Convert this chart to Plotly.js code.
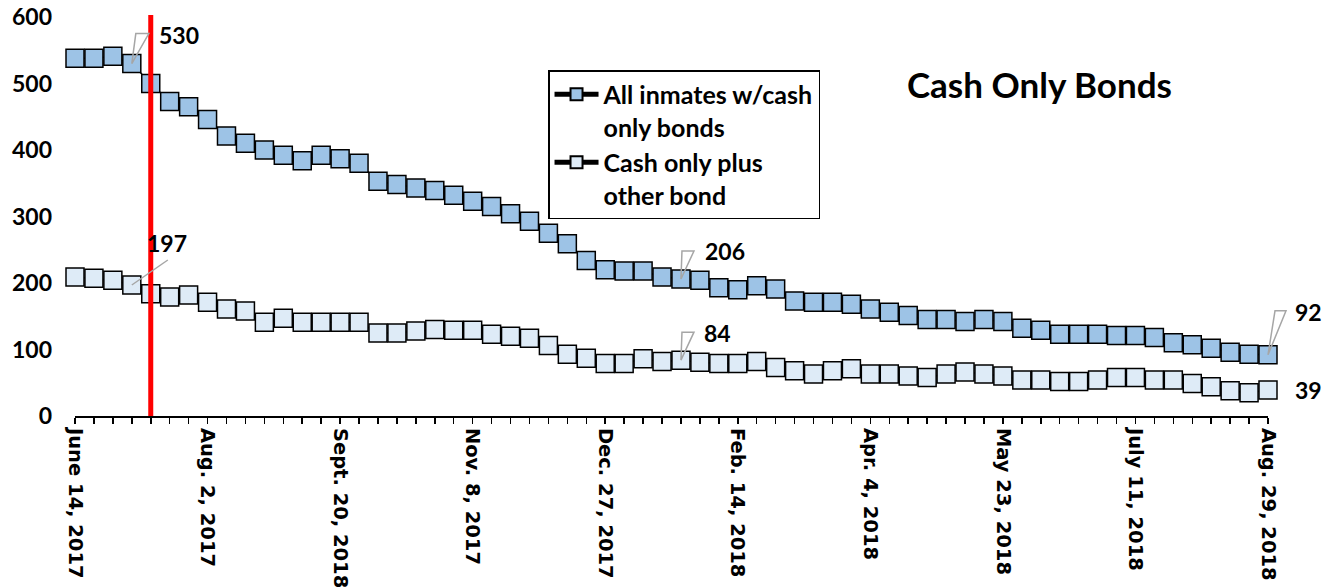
<!DOCTYPE html>
<html>
<head>
<meta charset="utf-8">
<script src="https://cdn.plot.ly/plotly-3.0.1.min.js"></script>
<style>
  html, body { margin: 0; padding: 0; background: #fff; }
  #chart { width: 1336px; height: 588px; }
</style>
</head>
<body>
<div id="chart"></div>
<script>
// Weekly dates (Wednesdays)
const weeks = [
  '2017-06-14','2017-06-21','2017-06-28','2017-07-05','2017-07-12','2017-07-19','2017-07-26',
  '2017-08-02','2017-08-09','2017-08-16','2017-08-23','2017-08-30','2017-09-06','2017-09-13',
  '2017-09-20','2017-09-27','2017-10-04','2017-10-11','2017-10-18','2017-10-25','2017-11-01',
  '2017-11-08','2017-11-15','2017-11-22','2017-11-29','2017-12-06','2017-12-13','2017-12-20',
  '2017-12-27','2018-01-03','2018-01-10','2018-01-17','2018-01-24','2018-01-31','2018-02-07',
  '2018-02-14','2018-02-21','2018-02-28','2018-03-07','2018-03-14','2018-03-21','2018-03-28',
  '2018-04-04','2018-04-11','2018-04-18','2018-04-25','2018-05-02','2018-05-09','2018-05-16',
  '2018-05-23','2018-05-30','2018-06-06','2018-06-13','2018-06-20','2018-06-27','2018-07-04',
  '2018-07-11','2018-07-18','2018-07-25','2018-08-01','2018-08-08','2018-08-15','2018-08-22',
  '2018-08-29'
];

const allCashOnly = [
  538, 538, 541, 530, 500, 473, 465, 446, 421, 410, 400, 392, 384, 392, 387, 380,
  353, 348, 343, 339, 332, 323, 315, 304, 293, 275, 259, 234, 220, 218, 218, 209,
  206, 204, 193, 190, 196, 191, 173, 171, 171, 168, 161, 156, 151, 145, 145, 142,
  145, 142, 132, 129, 123, 123, 123, 121, 121, 118, 110, 107, 102, 96, 93, 92
];

const cashPlusOther = [
  209, 207, 204, 197, 184, 179, 182, 171, 161, 158, 141, 147, 141, 141, 141, 141,
  125, 125, 128, 130, 129, 129, 123, 120, 117, 106, 93, 87, 79, 79, 86, 82,
  84, 81, 79, 79, 82, 73, 68, 63, 68, 71, 63, 63, 60, 58, 63, 66,
  63, 60, 54, 54, 52, 52, 54, 58, 58, 54, 54, 49, 44, 38, 35, 39
];

const tickDates = ['2017-06-14','2017-08-02','2017-09-20','2017-11-08','2017-12-27',
                   '2018-02-14','2018-04-04','2018-05-23','2018-07-11','2018-08-29'];
const tickLabels = ['June 14, 2017','Aug. 2, 2017','Sept. 20, 2018','Nov. 8, 2017','Dec. 27, 2017',
                    'Feb. 14, 2018','Apr. 4, 2018','May 23, 2018','July 11, 2018','Aug. 29, 2018'];

const seriesNames = ['All inmates w/cash<br>only bonds', 'Cash only plus<br>other bond'];
const markerEvent = '2017-07-12';
const chartTitle = 'Cash Only Bonds';

const labelFont = {family: 'Lato, sans-serif', size: 23, color: '#000', weight: 'bold'};

const traces = [
  {
    x: weeks, y: allCashOnly, name: seriesNames[0], type: 'scatter', mode: 'lines+markers',
    cliponaxis: false,
    line: {color: '#000', width: 1.5},
    marker: {symbol: 'square', size: 18, color: '#9DC3E6', line: {color: '#000', width: 1.5}}
  },
  {
    x: weeks, y: cashPlusOther, name: seriesNames[1], type: 'scatter', mode: 'lines+markers',
    cliponaxis: false,
    line: {color: '#000', width: 1.5},
    marker: {symbol: 'square', size: 18, color: '#DEEBF7', line: {color: '#000', width: 1.5}}
  }
];

function wedge(i, series, path, atEnd) {
  return {
    type: 'path',
    xref: atEnd ? 'paper' : 'x', yref: 'y', xsizemode: 'pixel', ysizemode: 'pixel',
    xanchor: atEnd ? 1 : weeks[i], yanchor: series[i], path: path,
    line: {color: '#A6A6A6', width: 1.5}, fillcolor: 'rgba(0,0,0,0)', layer: 'above'
  };
}
function label(i, series, dx, dy, anchor) {
  return {
    x: weeks[i], y: series[i], xref: 'x', yref: 'y', text: String(series[i]),
    showarrow: false, xanchor: anchor || 'left', yanchor: 'middle',
    xshift: dx, yshift: dy, font: labelFont
  };
}

const last = weeks.length - 1;

const layout = {
  width: 1336, height: 588,
  margin: {l: 75, r: 68, t: 17, b: 172},
  paper_bgcolor: '#fff', plot_bgcolor: '#fff',
  showlegend: true,
  title: {
    text: chartTitle, x: 0.778, xanchor: 'center', y: 0.855, yanchor: 'middle',
    font: {family: 'Lato, sans-serif', size: 35, color: '#000', weight: 'bold'}
  },
  legend: {
    x: 0.3965, y: 0.867, xanchor: 'left', yanchor: 'top',
    bordercolor: '#000', borderwidth: 1.5, bgcolor: '#fff',
    font: {family: 'Lato, sans-serif', size: 25, color: '#000', weight: 'bold'},
    itemsizing: 'constant', valign: 'top', tracegroupgap: 0, itemwidth: 44
  },
  xaxis: {
    type: 'date', range: [weeks[0], weeks[last]],
    tickmode: 'array', tickvals: tickDates, ticktext: tickLabels, tickangle: 90,
    tickfont: {family: 'DejaVu Sans', size: 19.5, color: '#000', weight: 'bold'},
    ticks: 'outside', ticklen: 6, tickwidth: 1.5, tickcolor: '#000',
    minor: {ticks: 'outside', ticklen: 6, tickwidth: 1.5, tickcolor: '#000',
            tick0: weeks[0], dtick: 7 * 86400000},
    showline: true, linecolor: '#000', linewidth: 2,
    showgrid: false, zeroline: false, fixedrange: true
  },
  yaxis: {
    range: [0, 600], dtick: 100, tick0: 0,
    tickfont: {family: 'Lato, sans-serif', size: 23, color: '#000', weight: 'bold'},
    ticks: '', ticklabelstandoff: 22,
    showline: false, showgrid: false, zeroline: false, fixedrange: true
  },
  shapes: [
    {type: 'line', xref: 'x', yref: 'paper', x0: markerEvent, x1: markerEvent, y0: 0, y1: 1.005,
     line: {color: '#FF0000', width: 5}, layer: 'above'},
    wedge(3, allCashOnly, 'M0,0 L4,30 L17,30 Z'),
    wedge(3, cashPlusOther, 'M0,0 L36,25'),
    wedge(32, allCashOnly, 'M0,0 L1,28 L13,28 Z'),
    wedge(32, cashPlusOther, 'M0,0 L1,28 L13,28 Z'),
    wedge(last, allCashOnly, 'M0,0 L7,44 L18,44 Z', true)
  ],
  annotations: [
    label(3, allCashOnly, 25, 29),
    label(3, cashPlusOther, 35, 42, 'center'),
    label(32, allCashOnly, 22, 28),
    label(32, cashPlusOther, 21, 27),
    label(last, allCashOnly, 25, 43),
    label(last, cashPlusOther, 25, 0)
  ]
};

Plotly.newPlot('chart', traces, layout, {displayModeBar: false, staticPlot: true});
</script>
</body>
</html>
